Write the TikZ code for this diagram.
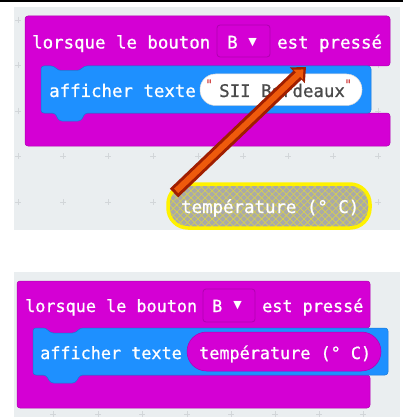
\documentclass[tikz,border=0pt]{standalone}
\usepackage{fontspec}
\newfontfamily\mbfont[FakeBold=0.9]{DejaVu Sans Mono}
\newfontfamily\symfont{DejaVu Sans}
\usetikzlibrary{arrows.meta,patterns.meta}
\definecolor{mbpurple}{HTML}{D400D4}
\definecolor{mbpurpled}{HTML}{B000B0}
\definecolor{mbblue}{HTML}{1E90FF}
\definecolor{mbblued}{HTML}{1878D8}
\definecolor{wsgray}{HTML}{EAEEF0}
\definecolor{plusgray}{HTML}{D2D6D9}
\definecolor{arrowdark}{HTML}{A01E00}
\definecolor{arroworange}{HTML}{EE5A0C}
\definecolor{pillgray}{HTML}{A9A9A9}
\definecolor{hatchyel}{HTML}{D9D24A}
\definecolor{txtgray}{HTML}{4A4A4A}
\definecolor{quotered}{HTML}{D44A4A}
\tikzset{
  lbl/.style={anchor=base west, inner sep=0pt, text=white, font=\mbfont\fontsize{17.4}{20}\selectfont},
  lblb/.style={anchor=base west, inner sep=0pt, text=white, font=\mbfont\fontsize{16.8}{20}\selectfont},
  hat/.style={fill=mbpurple, draw=mbpurpled, line width=0.5pt, rounded corners=3pt},
  stmt/.style={fill=mbblue, draw=mbblued, line width=0.5pt, rounded corners=3pt},
  ddbox/.style={fill=mbpurple, draw=mbpurpled, line width=0.8pt, rounded corners=3pt},
  plusmark/.style={draw=plusgray, line width=0.8pt},
  tri/.style={anchor=center, inner sep=0pt, text=white, font=\symfont\fontsize{11}{11}\selectfont},
  quotemark/.style={anchor=base west, inner sep=0pt, text=quotered, font=\mbfont\fontsize{13}{13}\selectfont},
}
\begin{document}
\begin{tikzpicture}[x=1pt,y=-1pt]
\useasboundingbox (0,0) rectangle (403,417);
\fill[white] (0,0) rectangle (403,417);
% top black line
\fill[black] (0,0) rectangle (403,2.5);
% workspace backgrounds
\fill[wsgray] (14,7) rectangle (400,230);
\fill[wsgray] (14,272) rectangle (400,417);
% grid pluses
\foreach \gx in {18,63,108,153,198,243,288,333,378}{
  \foreach \gy in {20,65.5,111,156,202}{
    \draw[plusmark] (\gx-3,\gy) -- (\gx+3,\gy) (\gx,\gy-3) -- (\gx,\gy+3);
  }
}
\foreach \gx in {53,98,142,187,231,275,319,363}{
  \draw[plusmark] (\gx-3,414) -- (\gx+3,414) (\gx,411) -- (\gx,417);
}
% ---------- top panel ----------
\path[hat] (25,16) -- (390,16) -- (390,66) -- (84,66) -- (80,70.5) -- (58,70.5) -- (54,66) -- (41,66) -- (41,113) -- (390,113) -- (390,146) -- (25,146) -- cycle;
\path[stmt] (41,66) -- (54,66) -- (58,70.5) -- (80,70.5) -- (84,66) -- (371,66) -- (371,113) -- (85,113) -- (81,121) -- (59,121) -- (55,113) -- (41,113) -- cycle;
\node[lbl] (t1) at (32,48.5) {lorsque le bouton};
\path[ddbox] (217,25) rectangle (270,57);
\node[lbl] (tb) at (227,48.5) {B};
\node[tri] (ta) at (252.5,42.5) {▼};
\node[lbl] (t2) at (277,48.5) {est pressé};
\node[lbl] (t3) at (49,97) {afficher texte};
\path[fill=white, draw=black!15, line width=0.5pt, rounded corners=15.5pt] (200,74) rectangle (362,105.5);
\node[quotemark] (q1) at (205,89) {"};
\node[lbl, text=txtgray] (t4) at (219,97) {SII Bordeaux};
\node[quotemark] (q2) at (344,89) {"};
% dragged reporter
\path[fill=pillgray, rounded corners=20pt] (168,184) rectangle (370,228);
\path[pattern={Lines[angle=45,distance=5pt,line width=0.6pt]}, pattern color=hatchyel, rounded corners=20pt] (168,184) rectangle (370,228);
\path[pattern={Lines[angle=-45,distance=5pt,line width=0.6pt]}, pattern color=hatchyel, rounded corners=20pt] (168,184) rectangle (370,228);
\draw[yellow, line width=3.5pt, rounded corners=20pt] (168,184) rectangle (370,228);
\node[lbl] (t5) at (181,213) {température (° C)};
% arrow
\coordinate (atail) at (174,193);
\coordinate (atip) at (306,67);
\draw[arrowdark, line width=12pt, -{Triangle[length=12pt,width=21pt]}] (atail) -- (atip);
\draw[arroworange, line width=6pt, shorten <=3pt, shorten >=3.5pt, -{Triangle[length=7.5pt,width=13pt]}] (atail) -- (atip);
% ---------- bottom panel ----------
\path[hat] (17,281) -- (370,281) -- (370,328) -- (80,328) -- (75.5,333) -- (50.5,333) -- (46,328) -- (33,328) -- (33,375) -- (370,375) -- (370,408) -- (17,408) -- cycle;
\path[stmt] (33,328) -- (46,328) -- (50.5,333) -- (75.5,333) -- (80,328) -- (388,328) -- (388,375) -- (80,375) -- (75.5,383) -- (50.5,383) -- (46,375) -- (33,375) -- cycle;
\node[lblb] (b1) at (25,312) {lorsque le bouton};
\path[ddbox] (203,289) rectangle (255,322);
\node[lblb] (bb) at (212,312) {B};
\node[tri] (ba) at (237.5,306) {▼};
\node[lblb] (b2) at (262,312) {est pressé};
\node[lblb] (b3) at (40,359) {afficher texte};
\path[fill=mbpurple, draw=mbpurpled, line width=0.5pt, rounded corners=19.5pt] (187,332) rectangle (381,371);
\node[lblb] (b4) at (199,359) {température (° C)};
\end{tikzpicture}
\end{document}
